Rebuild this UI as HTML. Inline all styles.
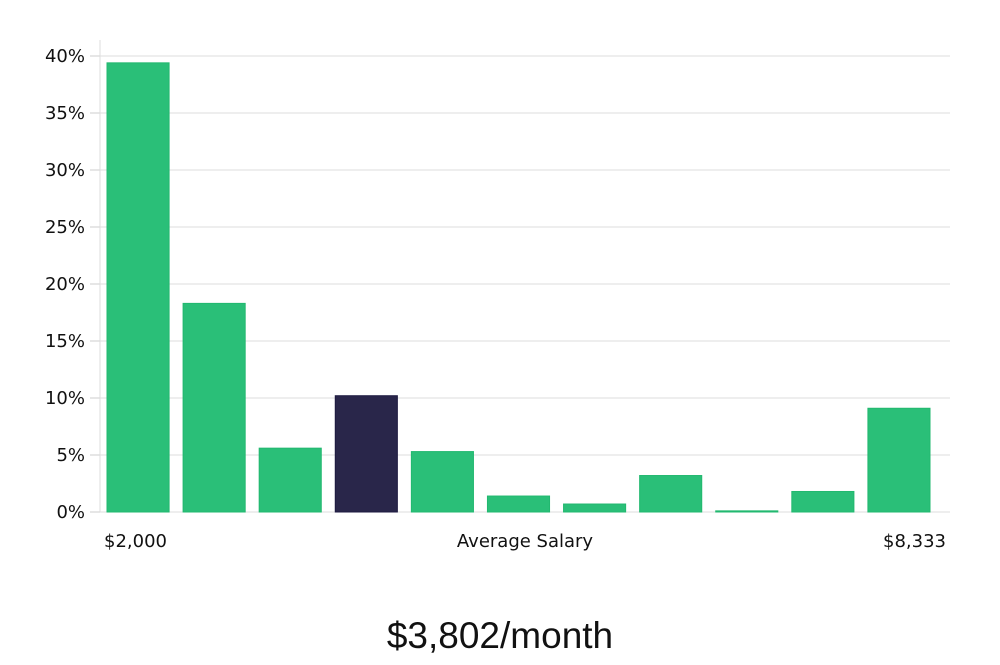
<!DOCTYPE html>
<html><head><meta charset="utf-8"><style>
body{margin:0;background:#fff;width:1000px;height:660px;overflow:hidden}
svg text{font-family:"DejaVu Sans","Liberation Sans",sans-serif;fill:#111}
</style></head><body>
<svg id="chart" width="1000" height="660" xmlns="http://www.w3.org/2000/svg">
<g id="grid"></g>
<g id="yaxis"></g>
<g id="bars"></g>
<text x="104" y="547" font-size="18">$2,000</text>
<text x="525" y="547" font-size="18" text-anchor="middle">Average Salary</text>
<text x="946" y="547" font-size="18" text-anchor="end">$8,333</text>
<text x="500" y="648" font-size="37" text-anchor="middle" style="font-family:'Liberation Sans',sans-serif;font-weight:300;fill:#111">$3,802/month</text>
</svg>
<script>
const categories=["b1","b2","b3","b4","b5","b6","b7","b8","b9","b10","b11"];
const values=[39.4,18.3,5.6,10.2,5.3,1.4,0.7,3.2,0.1,1.8,9.1];
const highlightIndex=3;
const yTicks=[0,5,10,15,20,25,30,35,40];
const yTickLabels=["0%","5%","10%","15%","20%","25%","30%","35%","40%"];
const NS="http://www.w3.org/2000/svg";
const x0=100,x1=950,yBase=512,yTop=56;
const y=v=>yBase-(v/40)*(yBase-yTop);
const pitch=(943-106)/categories.length;
const xBand=i=>106+i*pitch+1;
const bw=pitch-14;
function mk(t,a,p){const e=document.createElementNS(NS,t);for(const k in a)e.setAttribute(k,a[k]);p.appendChild(e);return e;}
const grid=document.getElementById('grid'),ya=document.getElementById('yaxis'),bars=document.getElementById('bars');
yTicks.forEach((t,i)=>{
 const gl=mk('line',{x1:x0,x2:x1,y1:y(t),y2:y(t),stroke:'#dddddd','stroke-width':1},grid);
 
 
 const tk=mk('line',{x1:90,x2:x0,y1:y(t),y2:y(t),stroke:'#cccccc','stroke-width':1},ya);
 
 
 const tx=mk('text',{x:85,y:y(t)+6,'font-size':18,'text-anchor':'end'},ya);
 tx.textContent=yTickLabels[i];
 
 
});
const ax=mk('line',{x1:x0,x2:x0,y1:40,y2:yBase,stroke:'#dddddd','stroke-width':1},ya);


values.forEach((v,i)=>{
 const hi=i===highlightIndex;
 const r=mk('rect',{x:xBand(i),y:y(v),width:bw,height:Math.max(1,yBase-y(v)),fill:hi?'#29264a':'#2abf78',stroke:hi?'#1d1a40':'#22b86f','stroke-width':1},bars);
 
 
});
</script>
</body></html>
